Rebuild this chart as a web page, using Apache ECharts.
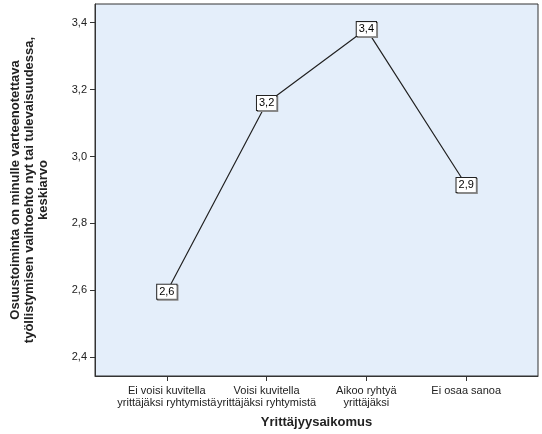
<!DOCTYPE html>
<html>
<head>
<meta charset="utf-8">
<script src="https://cdn.jsdelivr.net/npm/echarts@6/dist/echarts.min.js"></script>
<style>html,body{margin:0;padding:0;background:#fff}#c{width:542px;height:434px}</style>
</head>
<body>
<div id="c"></div>
<script>
// 数据
const categories = ['Ei voisi kuvitella\nyrittäjäksi ryhtymistä', 'Voisi kuvitella\nyrittäjäksi ryhtymistä', 'Aikoo ryhtyä\nyrittäjäksi', 'Ei osaa sanoa'];
const means = [2.596, 3.16, 3.381, 2.915];
const yTicks = [2.4, 2.6, 2.8, 3.0, 3.2, 3.4];

const fmt = v => v.toFixed(1).replace('.', ',');
const chart = echarts.init(document.getElementById('c'));

chart.setOption({
    animation: false,
    textStyle: { fontFamily: 'Liberation Sans, Arial, sans-serif' },
    grid: { left: 90, right: 4, top: 4, bottom: 54, show: true, backgroundColor: '#e4eefa', borderColor: '#333', borderWidth: 1 },
    xAxis: {
        type: 'value', min: -0.72, max: 3.72,
        name: 'Yrittäjyysaikomus', nameLocation: 'middle', nameGap: 40,
        nameTextStyle: { fontSize: 13, fontWeight: 'bold', color: '#222' },
        axisLine: { onZero: false, lineStyle: { color: '#333' } },
        splitLine: { show: false },
        axisTick: { length: 5, lineStyle: { color: '#333' }, customValues: [0, 1, 2, 3] },
        axisLabel: { customValues: [0, 1, 2, 3], fontSize: 11, color: '#222', lineHeight: 12, margin: 9,
            formatter: v => categories[Math.round(v)] }
    },
    yAxis: {
        type: 'value', min: 2.344, max: 3.456,
        name: 'Osuustoiminta on minulle varteenotettava\ntyöllistymisen vaihtoehto nyt tai tulevaisuudessa,\nkeskiarvo',
        nameLocation: 'middle', nameGap: 45, nameRotate: 90,
        nameTextStyle: { fontSize: 13, fontWeight: 'bold', color: '#222', lineHeight: 14 },
        axisLine: { show: true, onZero: false, lineStyle: { color: '#333' } },
        splitLine: { show: false },
        axisTick: { length: 5, lineStyle: { color: '#333' }, customValues: yTicks },
        axisLabel: { customValues: yTicks, fontSize: 11, color: '#222', formatter: fmt }
    },
    series: [{
        type: 'line',
        data: means.map((v, i) => [i, v]),
        symbol: 'circle', symbolSize: 1, showSymbol: true,
        itemStyle: { color: '#222' },
        lineStyle: { color: '#222', width: 1.2 },
        label: {
            show: true, position: 'inside', formatter: p => fmt(p.value[1]),
            fontSize: 11, color: '#000', backgroundColor: '#fff', borderColor: '#222', borderWidth: 1,
            padding: [2, 2, 1, 2], shadowColor: '#888', shadowOffsetX: 1, shadowOffsetY: 1, shadowBlur: 0
        }
    }]
});
</script>
</body>
</html>
